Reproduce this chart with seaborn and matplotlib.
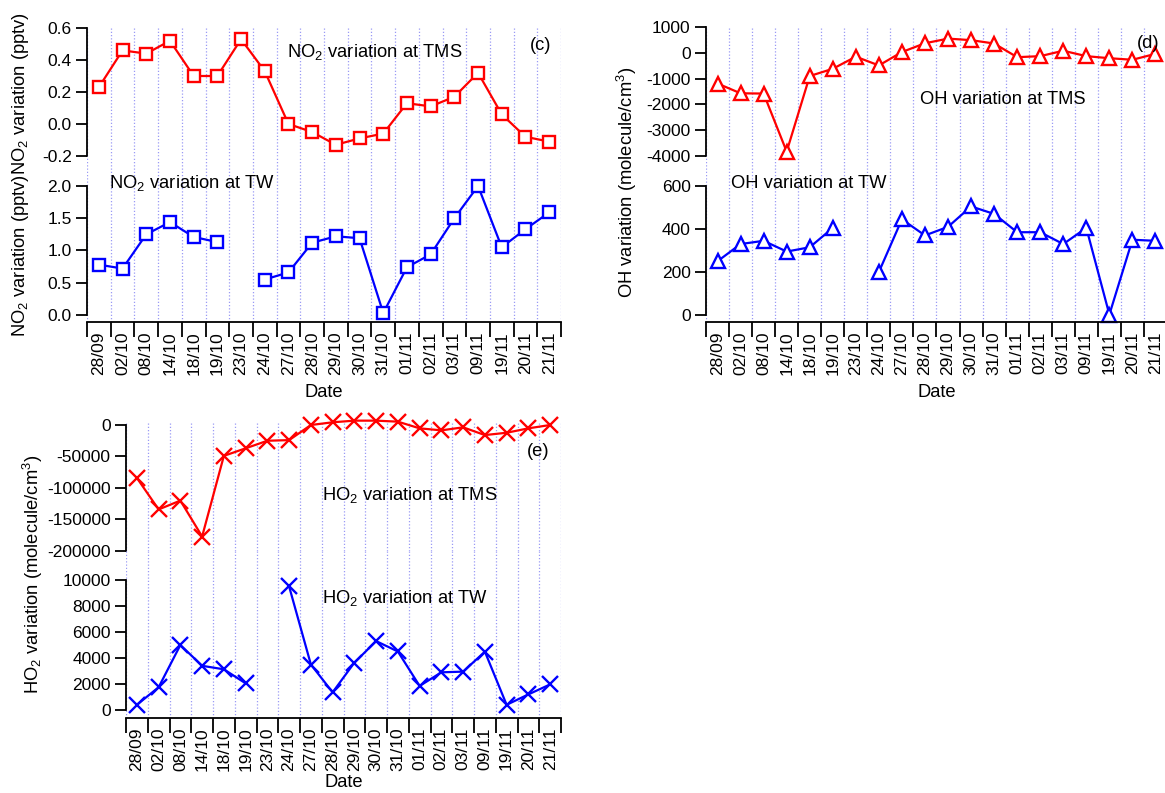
import numpy as np
import pandas as pd
import matplotlib
matplotlib.use("Agg")
import matplotlib.pyplot as plt
import seaborn as sns
from matplotlib.ticker import FixedLocator, FixedFormatter, NullFormatter

# ---- data -------------------------------------------------------------
dates = ["28/09", "02/10", "08/10", "14/10", "18/10", "19/10", "23/10",
         "24/10", "27/10", "28/10", "29/10", "30/10", "31/10", "01/11",
         "02/11", "03/11", "09/11", "19/11", "20/11", "21/11"]

no2_tms = [0.23, 0.46, 0.44, 0.52, 0.30, 0.30, 0.53, 0.33, 0.00, -0.05,
           -0.13, -0.09, -0.06, 0.13, 0.11, 0.17, 0.32, 0.06, -0.08, -0.11]
no2_tw = [0.78, 0.72, 1.25, 1.44, 1.21, 1.13, np.nan, 0.55, 0.66, 1.12,
          1.22, 1.19, 0.03, 0.74, 0.94, 1.50, 2.00, 1.05, 1.33, 1.59]

oh_tms = [-1190, -1570, -1580, -3830, -900, -620, -150, -490, 30, 370,
          550, 490, 360, -170, -130, 80, -130, -210, -270, -40]
oh_tw = [250, 330, 345, 295, 315, 405, np.nan, 200, 445, 370,
         410, 505, 470, 385, 385, 330, 405, 2, 350, 345]

ho2_tms = [-84000, -134000, -120000, -177000, -49000, -37000, -25000,
           -24000, 0, 4300, 6900, 6900, 5300, -5300, -8500, -3700,
           -16000, -12300, -5300, 0]
ho2_tw = [400, 1750, 5000, 3400, 3130, 2050, np.nan, 9500, 3500, 1360,
          3640, 5300, 4500, 1850, 2900, 2950, 4490, 400, 1200, 1970]

# ---- style ------------------------------------------------------------
sns.set_style("ticks", {"axes.edgecolor": "black", "xtick.color": "black",
                        "ytick.color": "black", "text.color": "black",
                        "axes.labelcolor": "black"})
plt.rcParams["font.family"] = ["Liberation Sans", "DejaVu Sans"]
plt.rcParams["mathtext.fontset"] = "custom"
plt.rcParams["mathtext.rm"] = "Liberation Sans"
plt.rcParams["mathtext.it"] = "Liberation Sans:italic"
plt.rcParams["mathtext.bf"] = "Liberation Sans:bold"
plt.rcParams["axes.unicode_minus"] = False

RED, BLUE = "#ff0000", "#0000ff"
GRID = "#9a9af5"
TICK_FS, TEXT_FS = 12.5, 13.2

W, H = 1165, 793
fig = plt.figure(figsize=(W / 100, H / 100), dpi=100)


def px_axes(x0, y0, x1, y1):
    return fig.add_axes([x0 / W, 1 - y1 / H, (x1 - x0) / W, (y1 - y0) / H])


def draw_series(ax, values, color, marker, ms, face):
    df = pd.DataFrame({"pos": np.arange(len(dates)), "val": values})
    df["seg"] = df["val"].isna().cumsum()
    df = df.dropna()
    sns.lineplot(data=df, x="pos", y="val", units="seg", estimator=None,
                 sort=False, color=color, linewidth=1.6, marker=marker,
                 markersize=ms, markerfacecolor=face, markeredgecolor=color,
                 markeredgewidth=1.7, clip_on=False, legend=False, ax=ax)
    ax.set_xlabel("")
    ax.set_ylabel("")


def style_pair(top, bot, top_lim, top_ticks, top_labels,
               bot_lim, bot_ticks, bot_labels, date_pad=6):
    n = len(dates)
    for ax in (top, bot):
        ax.set_xlim(-0.5, n - 0.5)
        ax.set_facecolor("none")
        for s in ("top", "right"):
            ax.spines[s].set_visible(False)
        ax.spines["left"].set_linewidth(1.3)
        ax.spines["bottom"].set_linewidth(1.3)
        ax.xaxis.set_major_locator(FixedLocator(np.arange(n + 1) - 0.5))
        ax.xaxis.set_minor_locator(FixedLocator(np.arange(n)))
        ax.grid(axis="x", which="major", color=GRID,
                linestyle=(0, (1, 1.6)), linewidth=0.9)
        ax.grid(axis="y", visible=False)
        ax.tick_params(axis="y", which="major", length=8, width=1.3,
                       direction="out", pad=3, labelsize=TICK_FS)
    top.spines["bottom"].set_visible(False)
    top.tick_params(axis="x", which="both", length=0,
                    labelbottom=False)

    top.set_ylim(*top_lim)
    top.yaxis.set_major_locator(FixedLocator(top_ticks))
    top.yaxis.set_major_formatter(FixedFormatter(top_labels))
    top.spines["left"].set_bounds(min(top_ticks), max(top_ticks))

    bot.set_ylim(*bot_lim)
    bot.yaxis.set_major_locator(FixedLocator(bot_ticks))
    bot.yaxis.set_major_formatter(FixedFormatter(bot_labels))
    bot.spines["left"].set_bounds(min(bot_ticks), max(bot_ticks))

    bot.tick_params(axis="x", which="major", length=11, width=1.3,
                    direction="out")
    bot.xaxis.set_major_formatter(NullFormatter())
    bot.tick_params(axis="x", which="minor", length=0, pad=7,
                    labelsize=TICK_FS, labelrotation=90)
    bot.xaxis.set_minor_formatter(FixedFormatter(dates))
    bot.set_xlabel("Date", fontsize=TEXT_FS, labelpad=date_pad)


# ---- (c) NO2 ----------------------------------------------------------
c_top = px_axes(87, 28, 561, 156)
c_bot = px_axes(87, 156, 561, 322)
draw_series(c_top, no2_tms, RED, "s", 9.3, "white")
draw_series(c_bot, no2_tw, BLUE, "s", 9.3, "white")
style_pair(c_top, c_bot,
           (-0.2, 0.6), [-0.2, 0.0, 0.2, 0.4, 0.6],
           ["-0.2", "0.0", "0.2", "0.4", "0.6"],
           (-0.109, 2.465), [0.0, 0.5, 1.0, 1.5, 2.0],
           ["0.0", "0.5", "1.0", "1.5", "2.0"])

# ---- (d) OH -----------------------------------------------------------
d_top = px_axes(706, 27, 1167, 156)
d_bot = px_axes(706, 156, 1167, 322)
draw_series(d_top, oh_tms, RED, "^", 9.5, "white")
draw_series(d_bot, oh_tw, BLUE, "^", 9.5, "white")
style_pair(d_top, d_bot,
           (-4000, 1000), [-4000, -3000, -2000, -1000, 0, 1000],
           ["-4000", "-3000", "-2000", "-1000", "0", "1000"],
           (-32.6, 739.5), [0, 200, 400, 600],
           ["0", "200", "400", "600"])

# ---- (e) HO2 ----------------------------------------------------------
e_top = px_axes(126, 422, 561, 551)
e_bot = px_axes(126, 551, 561, 718)
draw_series(e_top, ho2_tms, RED, "x", 11, "none")
draw_series(e_bot, ho2_tw, BLUE, "x", 11, "none")
style_pair(e_top, e_bot,
           (-200000, 4760), [-200000, -150000, -100000, -50000, 0],
           ["-200000", "-150000", "-100000", "-50000", "0"],
           (-615, 12230), [0, 2000, 4000, 6000, 8000, 10000],
           ["0", "2000", "4000", "6000", "8000", "10000"], date_pad=2)

# ---- labels and annotations ------------------------------------------
def ftext(x, y, s, **kw):
    kw.setdefault("fontsize", TEXT_FS)
    fig.text(x / W, 1 - y / H, s, **kw)


ftext(21, 174, "NO$_2$ variation (pptv)NO$_2$ variation (pptv)",
      rotation=90, ha="center", va="center")
ftext(627, 182, "OH variation (molecule/cm$^3$)",
      rotation=90, ha="center", va="center")
ftext(33, 574, "HO$_2$ variation (molecule/cm$^3$)",
      rotation=90, ha="center", va="center")

ftext(287, 52, "NO$_2$ variation at TMS", ha="left", va="center")
ftext(109, 183, "NO$_2$ variation at TW", ha="left", va="center")
ftext(920, 99, "OH variation at TMS", ha="left", va="center")
ftext(731, 184, "OH variation at TW", ha="left", va="center")
ftext(322, 495, "HO$_2$ variation at TMS", ha="left", va="center")
ftext(322, 598, "HO$_2$ variation at TW", ha="left", va="center")

ftext(541, 45, "(c)", ha="center", va="center")
ftext(1148, 43, "(d)", ha="center", va="center")
ftext(538, 452, "(e)", ha="center", va="center")

fig.savefig("out.png", dpi=100, facecolor="white")
